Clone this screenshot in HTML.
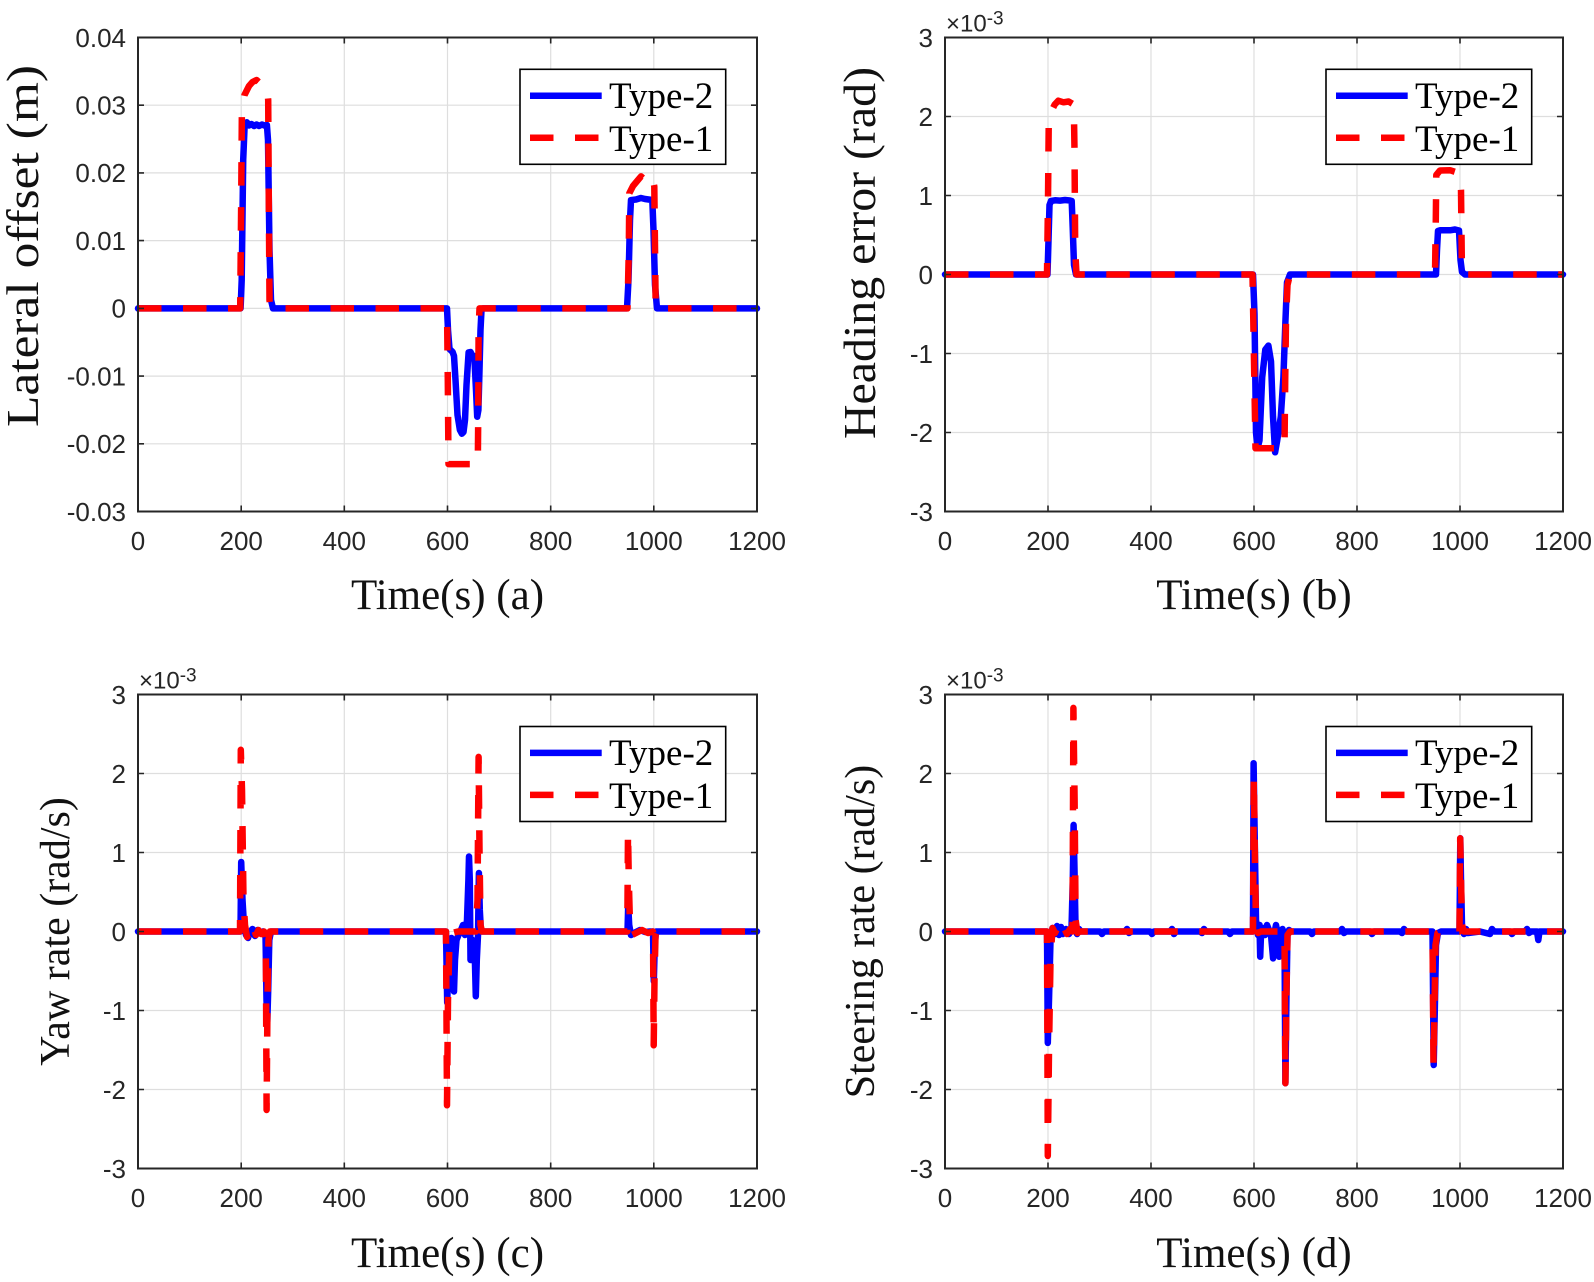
<!DOCTYPE html>
<html><head><meta charset="utf-8"><style>
html,body{margin:0;padding:0;background:#fff;}
svg{display:block;}
.tk{font-family:"Liberation Sans",Arial,sans-serif;font-size:26px;fill:#262626;}
.ex{font-family:"Liberation Sans",Arial,sans-serif;font-size:24px;fill:#262626;}
.lb{font-family:"Liberation Serif","Times New Roman",serif;font-size:42px;fill:#111;}
.lb2{font-family:"Liberation Serif","Times New Roman",serif;font-size:46px;fill:#111;}
.xl{font-family:"Liberation Serif","Times New Roman",serif;font-size:43px;fill:#111;}
.lg{font-family:"Liberation Serif","Times New Roman",serif;font-size:37px;fill:#000;}
.grid{stroke:#dedede;stroke-width:1.2;fill:none;}
.ax{stroke:#262626;stroke-width:2;fill:none;}
.tks{stroke:#262626;stroke-width:1.6;fill:none;}
.b{stroke:#0000ff;stroke-width:6.5;fill:none;stroke-linejoin:round;stroke-linecap:round;}
.r{stroke:#ff0000;stroke-width:6.5;fill:none;stroke-linejoin:round;stroke-linecap:butt;stroke-dasharray:23.5 21.5;}
</style></head><body>
<svg width="1594" height="1282" viewBox="0 0 1594 1282" xmlns="http://www.w3.org/2000/svg">
<rect width="1594" height="1282" fill="#fff"/>

<!-- ================= PANEL A ================= -->
<path class="grid" d="M241.2,37.5V511.5M344.3,37.5V511.5M447.5,37.5V511.5M550.7,37.5V511.5M653.8,37.5V511.5M138,105.2H757M138,172.9H757M138,240.6H757M138,308.4H757M138,376.1H757M138,443.8H757"/>
<path class="b" d="M138,308.4 L240.6,308.4 L241.7,280 L243.2,160 L244.7,124 L246.8,122.2 L249,125.5 L251.5,124 L254,126 L256.6,124.5 L259,126 L262,124.5 L264.4,125.5 L266.9,125 L268,140 L269.5,250 L271,300 L273,308.4 L447,308.4 L448,330 L449.5,349 L452.6,352 L454,356 L455.5,380 L457.5,415 L459.9,430 L461.9,433.7 L463.5,432 L465,420 L466.5,385 L468.6,352.4 L470.5,352 L472.5,356 L474.3,356 L476,390 L477.2,416.7 L478.4,410 L479.5,370 L480.5,330 L481.5,310 L483,308.4 L627,308.4 L628.5,280 L630,220 L631,200.1 L636,199.5 L640.9,198 L645,199 L652.3,200 L653.5,230 L655,285 L657,308.4 L757,308.4"/>
<path class="r" d="M138,308.4 L240.2,308.4 L241.2,200 L241.9,108 L244.5,95 L249,86 L252.5,82 L256.6,80 L261.8,84.9 L266.9,87 L268.2,100 L268.8,200 L269.5,300 L270.5,308.4 L447,308.4 L447.8,380 L448.5,464.1 L477.8,464.1 L478.2,420 L478.6,330 L479.5,308.4 L627.5,308.4 L628.8,250 L629.3,193.3 L633,186 L638,180 L641,176.4 L645,179.7 L649,174.3 L653,180 L654.3,186.5 L654.8,230 L655.6,300 L656.5,308.4 L757,308.4"/>
<rect class="ax" x="138" y="37.5" width="619" height="474"/>
<path class="tks" d="M241.2,511.5v-6M344.3,511.5v-6M447.5,511.5v-6M550.7,511.5v-6M653.8,511.5v-6M241.2,37.5v6M344.3,37.5v6M447.5,37.5v6M550.7,37.5v6M653.8,37.5v6M138,105.2h6M138,172.9h6M138,240.6h6M138,308.4h6M138,376.1h6M138,443.8h6M757,105.2h-6M757,172.9h-6M757,240.6h-6M757,308.4h-6M757,376.1h-6M757,443.8h-6"/>
<g class="tk" text-anchor="end">
<text x="126" y="46.8">0.04</text><text x="126" y="114.5">0.03</text><text x="126" y="182.2">0.02</text><text x="126" y="249.9">0.01</text><text x="126" y="317.7">0</text><text x="126" y="385.4">-0.01</text><text x="126" y="453.1">-0.02</text><text x="126" y="520.8">-0.03</text>
</g>
<g class="tk" text-anchor="middle">
<text x="138" y="550">0</text><text x="241.2" y="550">200</text><text x="344.3" y="550">400</text><text x="447.5" y="550">600</text><text x="550.7" y="550">800</text><text x="653.8" y="550">1000</text><text x="757" y="550">1200</text>
</g>
<text class="lb2" text-anchor="middle" textLength="362" lengthAdjust="spacingAndGlyphs" transform="translate(38,246) rotate(-90)">Lateral offset (m)</text>
<text class="xl" text-anchor="middle" x="447.5" y="609">Time(s) (a)</text>
<rect x="520" y="69.3" width="205.7" height="95" fill="#fff" stroke="#000" stroke-width="1.6"/>
<path class="b" style="stroke-linecap:butt" d="M530,95.7H601.7"/>
<path class="r" d="M530,137.7H601.7"/>
<text class="lg" x="609" y="108">Type-2</text>
<text class="lg" x="609" y="151">Type-1</text>

<!-- ================= PANEL B ================= -->
<path class="grid" d="M1048,37.5V511.5M1151,37.5V511.5M1254,37.5V511.5M1357,37.5V511.5M1460,37.5V511.5M945,116.5H1563M945,195.5H1563M945,274.5H1563M945,353.5H1563M945,432.5H1563"/>
<path class="b" d="M945,274.5 L1047.5,274.5 L1048.5,240 L1049.5,205 L1051,201 L1055,200.3 L1060,200.6 L1065,200 L1070,200.5 L1071.7,201 L1072.8,230 L1074,265 L1076,274.5 L1253,274.5 L1254.5,314 L1256,432.5 L1257.5,448.3 L1259.5,440.4 L1262.2,377.2 L1265.3,349.6 L1268.4,345.6 L1271,361.4 L1273,416.7 L1275.1,452.3 L1277.2,440.4 L1280.8,416.7 L1283.4,377.2 L1285.4,321.9 L1287,282.4 L1290,274.5 L1436,274.5 L1437,250 L1438,231 L1440,230.3 L1450,230.3 L1455,229.5 L1459,230.5 L1460.5,260 L1462,272 L1465,274.5 L1563,274.5"/>
<path class="r" d="M945,274.5 L1047,274.5 L1048,200 L1048.8,116.5 L1052,110 L1054.7,104.6 L1058.3,100.7 L1063.5,102.3 L1068.6,101.5 L1073.8,104.6 L1074.5,150 L1075.2,250 L1076.5,274.5 L1252.5,274.5 L1254,360 L1255.5,448.3 L1284.5,448.3 L1285.2,380 L1286,320 L1287.5,285 L1290,274.5 L1435,274.5 L1435.8,220 L1436.3,175 L1440,170.5 L1450,170.2 L1455,171.8 L1460,174 L1461,190 L1461.8,260 L1463,274.5 L1563,274.5"/>
<rect class="ax" x="945" y="37.5" width="618" height="474"/>
<path class="tks" d="M1048,511.5v-6M1151,511.5v-6M1254,511.5v-6M1357,511.5v-6M1460,511.5v-6M1048,37.5v6M1151,37.5v6M1254,37.5v6M1357,37.5v6M1460,37.5v6M945,116.5h6M945,195.5h6M945,274.5h6M945,353.5h6M945,432.5h6M1563,116.5h-6M1563,195.5h-6M1563,274.5h-6M1563,353.5h-6M1563,432.5h-6"/>
<g class="tk" text-anchor="end">
<text x="933" y="46.8">3</text><text x="933" y="125.8">2</text><text x="933" y="204.8">1</text><text x="933" y="283.8">0</text><text x="933" y="362.8">-1</text><text x="933" y="441.8">-2</text><text x="933" y="520.8">-3</text>
</g>
<g class="tk" text-anchor="middle">
<text x="945" y="550">0</text><text x="1048" y="550">200</text><text x="1151" y="550">400</text><text x="1254" y="550">600</text><text x="1357" y="550">800</text><text x="1460" y="550">1000</text><text x="1563" y="550">1200</text>
</g>
<text class="ex" x="946" y="31.5">×10<tspan font-size="19" dy="-7">-3</tspan></text>
<text class="lb2" text-anchor="middle" textLength="372" lengthAdjust="spacingAndGlyphs" transform="translate(875,253) rotate(-90)">Heading error (rad)</text>
<text class="xl" text-anchor="middle" x="1254" y="609">Time(s) (b)</text>
<rect x="1326" y="69.3" width="205.7" height="95" fill="#fff" stroke="#000" stroke-width="1.6"/>
<path class="b" style="stroke-linecap:butt" d="M1336,95.7H1407.7"/>
<path class="r" d="M1336,137.7H1407.7"/>
<text class="lg" x="1415" y="108">Type-2</text>
<text class="lg" x="1415" y="151">Type-1</text>

<!-- ================= PANEL C ================= -->
<path class="grid" d="M241.2,694.5V1168.5M344.3,694.5V1168.5M447.5,694.5V1168.5M550.7,694.5V1168.5M653.8,694.5V1168.5M138,773.5H757M138,852.5H757M138,931.5H757M138,1010.5H757M138,1089.5H757"/>
<path class="b" d="M138,931.5 L240.5,931.5 L241.2,862 L242.5,900 L244,925 L246,935 L248,938 L250,932 L252.5,929 L255,936 L257.5,930 L260,933 L263,931.5 L265.5,934 L266.5,1000 L267.3,1021.6 L268.2,990 L269.3,940 L271,931.5 L446,931.5 L447.2,1002.6 L448.5,960 L450,940 L451.5,938 L452.8,950 L454,991.5 L455,960 L456.5,940 L458.5,935 L461,930 L463,925 L465,935 L467,920 L468.4,880 L469,856.5 L469.8,880 L470.5,960 L471.2,960 L472.5,940 L474.5,945 L475.8,996.3 L476.8,960 L478,935 L478.9,873 L479.8,910 L481,931.5 L627.5,931.5 L628.2,905.4 L629.2,925 L631,935 L634,933 L640,930 L645,932 L650,931.5 L653,931.5 L653.8,981.3 L654.8,945 L656,931.5 L757,931.5"/>
<path class="r" d="M138,931.5 L240,931.5 L240.8,749.8 L242,790 L243.5,900 L245,925 L247,937 L249,933 L251,938 L253.5,928 L256,935 L258.5,930 L261,934 L264,931.5 L265.8,940 L266.6,1110 L267.5,1000 L268.5,940 L270,931.5 L446,931.5 L447,1105.3 L448,1000 L449.5,940 L452,933 L458,931.5 L476,931.5 L477.5,900 L478.6,756.9 L479.5,850 L480.5,925 L482,931.5 L627.3,931.5 L628,832 L628.8,880 L630,925 L632,935 L636,933 L642,930 L648,933 L653,931.5 L653.7,1045.3 L654.5,980 L655.5,935 L657,931.5 L757,931.5"/>
<rect class="ax" x="138" y="694.5" width="619" height="474"/>
<path class="tks" d="M241.2,1168.5v-6M344.3,1168.5v-6M447.5,1168.5v-6M550.7,1168.5v-6M653.8,1168.5v-6M241.2,694.5v6M344.3,694.5v6M447.5,694.5v6M550.7,694.5v6M653.8,694.5v6M138,773.5h6M138,852.5h6M138,931.5h6M138,1010.5h6M138,1089.5h6M757,773.5h-6M757,852.5h-6M757,931.5h-6M757,1010.5h-6M757,1089.5h-6"/>
<g class="tk" text-anchor="end">
<text x="126" y="703.8">3</text><text x="126" y="782.8">2</text><text x="126" y="861.8">1</text><text x="126" y="940.8">0</text><text x="126" y="1019.8">-1</text><text x="126" y="1098.8">-2</text><text x="126" y="1177.8">-3</text>
</g>
<g class="tk" text-anchor="middle">
<text x="138" y="1207">0</text><text x="241.2" y="1207">200</text><text x="344.3" y="1207">400</text><text x="447.5" y="1207">600</text><text x="550.7" y="1207">800</text><text x="653.8" y="1207">1000</text><text x="757" y="1207">1200</text>
</g>
<text class="ex" x="139" y="688.5">×10<tspan font-size="19" dy="-7">-3</tspan></text>
<text class="lb" text-anchor="middle" transform="translate(69,931.5) rotate(-90)">Yaw rate (rad/s)</text>
<text class="xl" text-anchor="middle" x="447.5" y="1267">Time(s) (c)</text>
<rect x="520" y="726.5" width="205.7" height="95" fill="#fff" stroke="#000" stroke-width="1.6"/>
<path class="b" style="stroke-linecap:butt" d="M530,752.9H601.7"/>
<path class="r" d="M530,794.9H601.7"/>
<text class="lg" x="609" y="765.2">Type-2</text>
<text class="lg" x="609" y="808.2">Type-1</text>

<!-- ================= PANEL D ================= -->
<path class="grid" d="M1048,694.5V1168.5M1151,694.5V1168.5M1254,694.5V1168.5M1357,694.5V1168.5M1460,694.5V1168.5M945,773.5H1563M945,852.5H1563M945,931.5H1563M945,1010.5H1563M945,1089.5H1563"/>
<path class="b" d="M945,931.5 L1047,931.5 L1047.8,1042.9 L1049,1000 L1050.5,940 L1052.5,928 L1055,934 L1057,926 L1059,935 L1061,927 L1063,934 L1066,929 L1069,934 L1071.5,929 L1072.8,880 L1073.6,824.9 L1074.5,870 L1075.5,925 L1077,934 L1079,929 L1081,931.5 L1100,931.5 L1102,934 L1104,931.5 L1125,931.5 L1127,929 L1129,933 L1131,931.5 L1150,931.5 L1152,934 L1154,931.5 L1170,931.5 L1172,929 L1174,934 L1176,931.5 L1200,931.5 L1202,933 L1204,929 L1206,931.5 L1228,931.5 L1230,934 L1232,931.5 L1253,931.5 L1253.6,763.2 L1254.6,830 L1256,920 L1258,935 L1259.5,925 L1260.2,956.8 L1261,935 L1263,928 L1265,935 L1267,925 L1269,930 L1271,935 L1273.1,958.4 L1274,935 L1276,925 L1278,935 L1279.2,956.8 L1280.5,935 L1282.5,929 L1284.5,935 L1285.4,1083.2 L1286.4,1000 L1287.5,935 L1289,930 L1291,931.5 L1310,931.5 L1312,934 L1314,931.5 L1340,931.5 L1342,929 L1344,933 L1346,931.5 L1370,931.5 L1372,934 L1374,931.5 L1400,931.5 L1402,933 L1404,929 L1406,931.5 L1432.5,931.5 L1433.7,1065 L1435,1000 L1436,945 L1438,933 L1441,931.5 L1459.5,931.5 L1460.3,838.3 L1461,880 L1462,925 L1464,934 L1466,929 L1468,933 L1480,931.5 L1490,934 L1492,929 L1494,931.5 L1510,931.5 L1512,934 L1514,931.5 L1525,931.5 L1527,929 L1529,933 L1531,931.5 L1537,931.5 L1538.3,940 L1539.5,931.5 L1563,931.5"/>
<path class="r" d="M945,931.5 L1047,931.5 L1047.8,1155.9 L1049,1050 L1050.5,960 L1052.5,928 L1055,933 L1058,927 L1061,935 L1064,928 L1067,934 L1070,929 L1072.5,931.5 L1073.4,707.9 L1074.6,800 L1075.6,920 L1077.5,933 L1080,931.5 L1253,931.5 L1253.8,777.4 L1254.8,850 L1256,925 L1258,933 L1261,931.5 L1284.5,931.5 L1285.4,1083.2 L1286.5,990 L1287.5,935 L1290,931.5 L1432.5,931.5 L1433.5,1065 L1434.6,1000 L1435.5,945 L1437.5,933 L1441,931.5 L1459.5,931.5 L1460.2,838.3 L1461,880 L1462,925 L1464,931.5 L1563,931.5"/>
<rect class="ax" x="945" y="694.5" width="618" height="474"/>
<path class="tks" d="M1048,1168.5v-6M1151,1168.5v-6M1254,1168.5v-6M1357,1168.5v-6M1460,1168.5v-6M1048,694.5v6M1151,694.5v6M1254,694.5v6M1357,694.5v6M1460,694.5v6M945,773.5h6M945,852.5h6M945,931.5h6M945,1010.5h6M945,1089.5h6M1563,773.5h-6M1563,852.5h-6M1563,931.5h-6M1563,1010.5h-6M1563,1089.5h-6"/>
<g class="tk" text-anchor="end">
<text x="933" y="703.8">3</text><text x="933" y="782.8">2</text><text x="933" y="861.8">1</text><text x="933" y="940.8">0</text><text x="933" y="1019.8">-1</text><text x="933" y="1098.8">-2</text><text x="933" y="1177.8">-3</text>
</g>
<g class="tk" text-anchor="middle">
<text x="945" y="1207">0</text><text x="1048" y="1207">200</text><text x="1151" y="1207">400</text><text x="1254" y="1207">600</text><text x="1357" y="1207">800</text><text x="1460" y="1207">1000</text><text x="1563" y="1207">1200</text>
</g>
<text class="ex" x="946" y="688.5">×10<tspan font-size="19" dy="-7">-3</tspan></text>
<text class="lb" text-anchor="middle" transform="translate(874,931.5) rotate(-90)">Steering rate (rad/s)</text>
<text class="xl" text-anchor="middle" x="1254" y="1267">Time(s) (d)</text>
<rect x="1326" y="726.5" width="205.7" height="95" fill="#fff" stroke="#000" stroke-width="1.6"/>
<path class="b" style="stroke-linecap:butt" d="M1336,752.9H1407.7"/>
<path class="r" d="M1336,794.9H1407.7"/>
<text class="lg" x="1415" y="765.2">Type-2</text>
<text class="lg" x="1415" y="808.2">Type-1</text>
</svg>
</body></html>
